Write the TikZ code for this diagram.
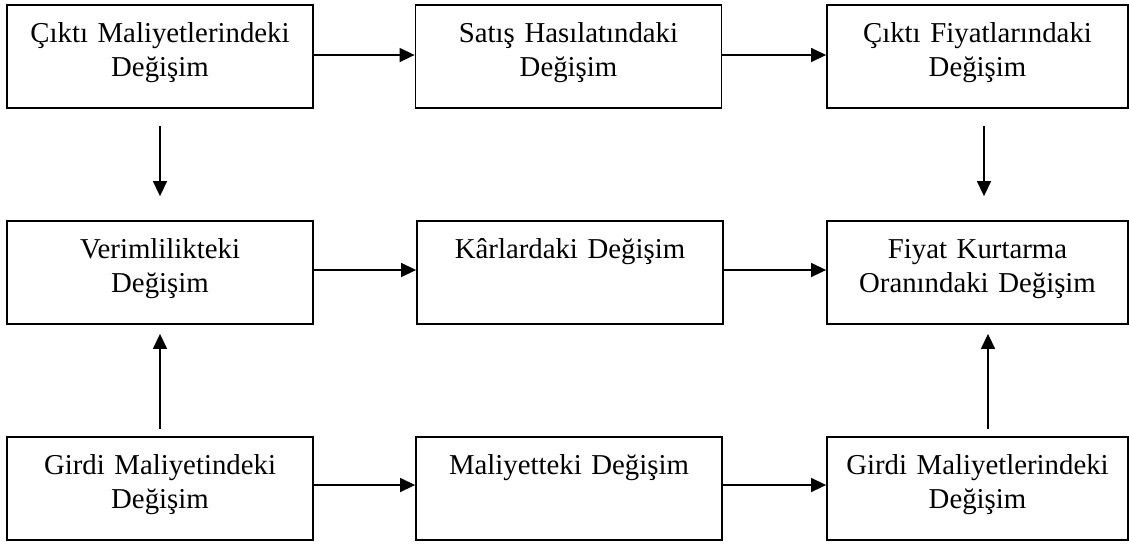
\documentclass[tikz,border=0pt]{standalone}
\usepackage{fontspec}
\setmainfont{Liberation Serif}
\usetikzlibrary{arrows.meta}
\begin{document}
\begin{tikzpicture}[x=0.5pt,y=-0.5pt,
    b/.style={draw,line width=0.9pt,inner xsep=2pt,inner ysep=0pt,
      align=center,font=\fontsize{14.4}{17}\selectfont,
      text width=146pt,text height=18.5pt,text depth=33pt,
      minimum width=153pt},
    a/.style={-{Triangle[length=7.5pt,width=7pt]},line width=0.7pt}]
\useasboundingbox (0,0) rectangle (1129,543);
% top row
\node[b] (cmd) at (160,56.5) {Çıktı Maliyetlerindeki\\Değişim};
\node[b] (shd) at (568.5,56.5) {Satış Hasılatındaki\\Değişim};
\node[b,minimum width=150.5pt] (cfd) at (977.5,56.5) {Çıktı Fiyatlarındaki\\Değişim};
% middle row
\node[b] (vd) at (160,272.5) {Verimlilikteki\\Değişim};
\node[b] (kd) at (570,272.5) {Kârlardaki Değişim};
\node[b,minimum width=150.5pt] (fko) at (977.5,272.5) {Fiyat Kurtarma\\Oranındaki Değişim};
% bottom row
\node[b] (gmd) at (160,488.5) {Girdi Maliyetindeki\\Değişim};
\node[b] (md) at (569,488.5) {Maliyetteki Değişim};
\node[b,minimum width=150.5pt] (gmld) at (977.5,488.5) {Girdi Maliyetlerindeki\\Değişim};
\draw[a] ([yshift=0.75pt]cmd.east) -- ([yshift=0.75pt]shd.west);
\draw[a] ([yshift=0.75pt]shd.east) -- ([yshift=0.75pt]cfd.west);
\draw[a] ([yshift=1.25pt]vd.east) -- ([yshift=1.25pt]kd.west);
\draw[a] ([yshift=1.25pt]kd.east) -- ([yshift=1.25pt]fko.west);
\draw[a] ([yshift=1.75pt]gmd.east) -- ([yshift=1.75pt]md.west);
\draw[a] ([yshift=1.75pt]md.east) -- ([yshift=1.75pt]gmld.west);
\draw[a] ([yshift=-8.5pt]cmd.south) -- ([yshift=12pt]vd.north);
\draw[a] ([xshift=3.25pt,yshift=-8.5pt]cfd.south) -- ([xshift=3.25pt,yshift=12pt]fko.north);
\draw[a] ([yshift=3.5pt]gmd.north) -- ([yshift=-4.5pt]vd.south);
\draw[a] ([xshift=5.25pt,yshift=3.5pt]gmld.north) -- ([xshift=5.25pt,yshift=-4.5pt]fko.south);
\end{tikzpicture}
\end{document}
